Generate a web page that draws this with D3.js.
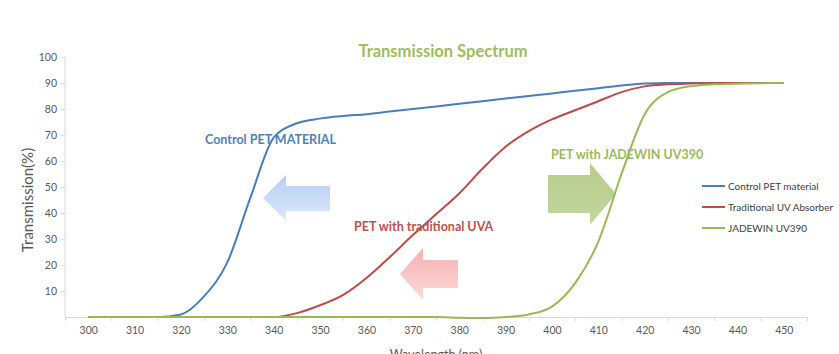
<!DOCTYPE html>
<html>
<head>
<meta charset="utf-8">
<script src="https://cdn.jsdelivr.net/npm/d3@7"></script>
<style>
  body { margin: 0; background: #fff; }
  svg { display: block; font-family: Lato, "Open Sans", sans-serif; }
  .axis path, .axis line { stroke: #d9d9d9; }
  .axis text { fill: #595959; font-size: 10.5px; font-family: Lato, sans-serif; }
</style>
</head>
<body>
<div id="chart"></div>
<script>
var wavelengths = [300, 305, 310, 315, 320, 325, 330, 335, 340, 345, 350, 355, 360, 365, 370, 375,
                   380, 385, 390, 395, 400, 405, 410, 415, 420, 425, 430, 435, 440, 445, 450];

var control_pet = [0, 0, 0, 0, 1, 8, 21, 46, 69, 74.5, 76.3, 77.3, 78, 79, 80, 81,
                   82, 83, 84, 85, 86, 87, 88, 89, 89.8, 90, 90, 90, 90, 90, 90];
var traditional_uva = [0, 0, 0, 0, 0, 0, 0, 0, 0, 1.5, 4.5, 8.5, 15, 23, 31.5, 39.5,
                       47.5, 57, 65.5, 71.5, 76, 79.5, 83, 86.5, 88.7, 89.5, 89.8, 90, 90, 90, 90];
var jadewin_uv390 = [0, 0, 0, 0, 0, 0, 0, 0, 0, 0, 0, 0, 0, 0, 0, 0,
                     -0.3, -0.4, 0, 1, 4, 13, 29, 55, 78, 86.5, 88.8, 89.5, 89.7, 89.9, 90];

var x_labels = [300, 310, 320, 330, 340, 350, 360, 370, 380, 390, 400, 410, 420, 430, 440, 450];
var y_labels = [10, 20, 30, 40, 50, 60, 70, 80, 90, 100];

var series = [
  ["Control PET material", "#4a7ebb", control_pet],
  ["Traditional UV Absorber", "#be4b48", traditional_uva],
  ["JADEWIN UV390", "#98b954", jadewin_uv390]
];

var width = 839, height = 354;

var x = d3.scaleLinear().domain([295, 455]).range([65, 807]);
var y = d3.scaleLinear().domain([0, 100]).range([317, 57]);

var svg = d3.select('#chart').append('svg')
  .attr('width', width)
  .attr('height', height);

var defs = svg.append('defs');
function grad(id, c1, c2) {
  var g = defs.append('linearGradient').attr('id', id)
    .attr('x1', 0).attr('y1', 0).attr('x2', 0).attr('y2', 1);
  g.append('stop').attr('offset', '0%').attr('stop-color', c1);
  g.append('stop').attr('offset', '100%').attr('stop-color', c2);
}
grad('blue-arrow', '#b6cff4', '#dce8fb');
grad('red-arrow', '#f6b0b0', '#fcd9d9');
grad('green-arrow', '#b7cd8c', '#c3d69e');

// arrows (annotations)
svg.append('polygon')
  .attr('points', '263,198 286,175 286,186 330,186 330,211 286,211 286,221')
  .attr('fill', 'url(#blue-arrow)');
svg.append('polygon')
  .attr('points', '400,274 423,248 423,260 458,260 458,288 423,288 423,300')
  .attr('fill', 'url(#red-arrow)');
svg.append('polygon')
  .attr('points', '616,194 590,163 590,175 548,175 548,213 590,213 590,225')
  .attr('fill', 'url(#green-arrow)');

// y axis
var yAxis = d3.axisLeft(y).tickValues(y_labels).tickSize(4).tickPadding(4);
svg.append('g')
  .attr('class', 'axis')
  .attr('transform', 'translate(65,0)')
  .call(yAxis)
  .call(function(g) { g.select('.domain').attr('d', 'M0,' + y(100) + 'V' + y(0)); });

// x axis: labels centred in categories, tick marks on boundaries
var xAxis = d3.axisBottom(x).tickValues(x_labels).tickSize(0).tickPadding(10);
svg.append('g')
  .attr('class', 'axis')
  .attr('transform', 'translate(0,' + y(0) + ')')
  .call(xAxis);

var boundaries = x_labels.map(function(d) { return d - 5; }).concat([455]);
svg.append('g')
  .attr('class', 'axis')
  .attr('transform', 'translate(0,' + y(0) + ')')
  .call(d3.axisBottom(x).tickValues(boundaries).tickSize(4).tickFormat(''))
  .call(function(g) { g.select('.domain').remove(); });

// lines
var line = d3.line()
  .x(function(d) { return x(d[0]); })
  .y(function(d) { return y(d[1]); })
  .curve(d3.curveMonotoneX);

series.forEach(function(s) {
  svg.append('path')
    .datum(wavelengths.map(function(w, i) { return [w, s[2][i]]; }))
    .attr('d', line)
    .attr('fill', 'none')
    .attr('stroke', s[1])
    .attr('stroke-width', 2);
});

// title
svg.append('text')
  .attr('x', 443).attr('y', 57)
  .attr('text-anchor', 'middle')
  .style('font-size', '16.5px')
  .style('font-weight', 'bold')
  .style('fill', '#9dbd5e')
  .text('Transmission Spectrum');

// annotation labels
svg.append('text').attr('x', 205).attr('y', 144)
  .style('font-size', '12.5px').style('font-weight', 'bold').style('fill', '#4f81bd')
  .text('Control PET  MATERIAL');
svg.append('text').attr('x', 354).attr('y', 231)
  .style('font-size', '12.5px').style('font-weight', 'bold').style('fill', '#c0504d')
  .text('PET with traditional UVA');
svg.append('text').attr('x', 551).attr('y', 159)
  .style('font-size', '12.5px').style('font-weight', 'bold').style('fill', '#9bbb59')
  .text('PET with JADEWIN UV390');

// axis titles
svg.append('text')
  .attr('transform', 'translate(33,200) rotate(-90)')
  .attr('text-anchor', 'middle')
  .style('font-size', '15px')
  .style('fill', '#595959')
  .text('Transmission(%)');

svg.append('text')
  .attr('x', 436).attr('y', 359)
  .attr('text-anchor', 'middle')
  .style('font-size', '12.5px')
  .style('fill', '#595959')
  .text('Wavelength (nm)');

// legend
var legend = svg.append('g').attr('class', 'legend');
series.forEach(function(s, i) {
  var ly = 186 + i * 21;
  legend.append('line')
    .attr('x1', 702).attr('x2', 725)
    .attr('y1', ly).attr('y2', ly)
    .attr('stroke', s[1]).attr('stroke-width', 2);
  legend.append('text')
    .attr('x', 728).attr('y', ly + 3.5)
    .style('font-size', '10px')
    .style('fill', '#404040')
    .text(s[0]);
});
</script>
</body>
</html>
